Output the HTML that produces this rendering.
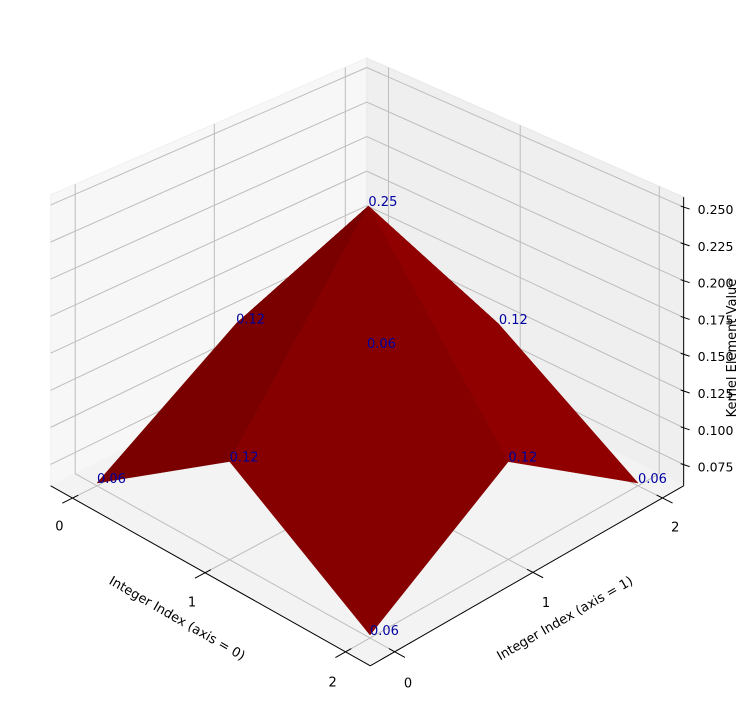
<!DOCTYPE html>
<html><head><meta charset="utf-8"><style>
html,body{margin:0;padding:0;background:#fff;}
svg{display:block;font-family:"DejaVu Sans","Liberation Sans",sans-serif;}
</style></head><body>
<svg id="chart" width="746" height="713" viewBox="0 0 746 713" xmlns="http://www.w3.org/2000/svg">
<g id="panes"></g>
<g id="grid"></g>
<g id="axes"></g>
<g id="surface"></g>
<g id="labels"></g>
</svg>
<script>
const rowIdx = [0, 1, 2];
const colIdx = [0, 1, 2];
const kernel = [
  [0.0625, 0.125, 0.0625],
  [0.125, 0.25, 0.125],
  [0.0625, 0.125, 0.0625]
];
const zTicks = [0.075, 0.100, 0.125, 0.150, 0.175, 0.200, 0.225, 0.250];
const zTickLabels = ["0.075","0.100","0.125","0.150","0.175","0.200","0.225","0.250"];
const xTickLabels = ["0","1","2"];
const yTickLabels = ["0","1","2"];

const NS = "http://www.w3.org/2000/svg";
const Z0 = 0.0625, IMIN = -0.17, IMAX = 2.17, ZMIN = 0.0606, ZMAX = 0.2568;
const P = [[97,483],[370,635],[638,483],[367,348]];
const dx1=P[1][0]-P[2][0], dx2=P[3][0]-P[2][0], dx3=P[0][0]-P[1][0]+P[2][0]-P[3][0];
const dy1=P[1][1]-P[2][1], dy2=P[3][1]-P[2][1], dy3=P[0][1]-P[1][1]+P[2][1]-P[3][1];
const den = dx1*dy2-dx2*dy1;
const g=(dx3*dy2-dx2*dy3)/den, h=(dx1*dy3-dx3*dy1)/den;
const A=P[1][0]-P[0][0]+g*P[1][0], B=P[3][0]-P[0][0]+h*P[3][0], C=P[0][0];
const D=P[1][1]-P[0][1]+g*P[1][1], E=P[3][1]-P[0][1]+h*P[3][1], F=P[0][1];
function floorPt(i,j){const u=i/2,v=j/2,w=g*u+h*v+1;return [(A*u+B*v+C)/w,(D*u+E*v+F)/w,1/w];}
const cen = floorPt(1,1);
const K = (cen[1]-206)/(0.25-Z0)/cen[2];
function proj(i,j,z){const f=floorPt(i,j);return [f[0], f[1]-(z-Z0)*K*f[2]];}

function mk(tag, attrs, parent){const e=document.createElementNS(NS,tag);for(const k in attrs)e.setAttribute(k,attrs[k]);parent.appendChild(e);return e;}
function poly(pts){return pts.map(p=>p[0].toFixed(1)+","+p[1].toFixed(1)).join(" ");}
const panes=document.getElementById("panes"), grid=document.getElementById("grid"), axes=document.getElementById("axes"), surf=document.getElementById("surface"), labs=document.getElementById("labels");

let e;
e=mk("polygon",{points:poly([proj(IMIN,IMIN,ZMIN),proj(IMIN,IMAX,ZMIN),proj(IMIN,IMAX,ZMAX),proj(IMIN,IMIN,ZMAX)]),fill:"#f7f7f7",stroke:"#f0f0f0"},panes);


e=mk("polygon",{points:poly([proj(IMIN,IMAX,ZMIN),proj(IMAX,IMAX,ZMIN),proj(IMAX,IMAX,ZMAX),proj(IMIN,IMAX,ZMAX)]),fill:"#efefef",stroke:"#e8e8e8"},panes);


e=mk("polygon",{points:poly([proj(IMIN,IMIN,ZMIN),proj(IMAX,IMIN,ZMIN),proj(IMAX,IMAX,ZMIN),proj(IMIN,IMAX,ZMIN)]),fill:"#f3f3f3",stroke:"#f3f3f3"},panes);



function gl(a,b){const l=mk("line",{x1:a[0],y1:a[1],x2:b[0],y2:b[1],stroke:"#bdbdbd","stroke-width":1},grid);

}
rowIdx.forEach(i=>{gl(proj(i,IMIN,ZMIN),proj(i,IMAX,ZMIN));gl(proj(i,IMAX,ZMIN),proj(i,IMAX,ZMAX));});
colIdx.forEach(j=>{gl(proj(IMIN,j,ZMIN),proj(IMAX,j,ZMIN));gl(proj(IMIN,j,ZMIN),proj(IMIN,j,ZMAX));});
zTicks.forEach(z=>{gl(proj(IMIN,IMIN,z),proj(IMIN,IMAX,z));gl(proj(IMIN,IMAX,z),proj(IMAX,IMAX,z));});

function al(a,b,name){const l=mk("line",{x1:a[0],y1:a[1],x2:b[0],y2:b[1],stroke:"#000","stroke-width":1},axes);

}
al(proj(IMIN,IMIN,ZMIN),proj(IMAX,IMIN,ZMIN),"x-axis-line");
al(proj(IMAX,IMIN,ZMIN),proj(IMAX,IMAX,ZMIN),"y-axis-line");
al(proj(IMAX,IMAX,ZMIN),proj(IMAX,IMAX,ZMAX),"z-axis-line");
function txt(x,y,s,extra,name){const t=mk("text",Object.assign({x:x,y:y,"font-size":13,fill:"#000"},extra||{}),axes);t.textContent=s;

return t;}
rowIdx.forEach((i,k)=>{
  al(proj(i,IMIN+0.04,ZMIN),proj(i,IMIN-0.07,ZMIN),"x-tick");
  const p=proj(i,IMIN-0.24,ZMIN);
  txt(p[0]+22,p[1]+15,xTickLabels[k],{"text-anchor":"middle"},"x-tick-label");
});
colIdx.forEach((j,k)=>{
  al(proj(IMAX-0.04,j,ZMIN),proj(IMAX+0.07,j,ZMIN),"y-tick");
  const p=proj(IMAX+0.24,j,ZMIN);
  txt(p[0]-22,p[1]+16,yTickLabels[k],{"text-anchor":"middle"},"y-tick-label");
});
zTicks.forEach((z,k)=>{
  const p=proj(IMAX,IMAX,z);
  al([p[0]-3,p[1]-1],[p[0]+6,p[1]+2],"z-tick");
  txt(p[0]+14,p[1]+7,zTickLabels[k],{"font-size":12.5},"z-tick-label");
});
txt(175,622,"Integer Index (axis = 0)",{"text-anchor":"middle",transform:"rotate(30 175 622)"},"x-axis-title");
txt(567,622,"Integer Index (axis = 1)",{"text-anchor":"middle",transform:"rotate(-30 567 622)"},"y-axis-title");
txt(736,348,"Kernel Element Value",{"text-anchor":"middle",transform:"rotate(-90 736 348)"},"z-axis-title");

const quadColors = {"0,0":"#7a0000","1,0":"#870000","0,1":"#8c0000","1,1":"#900000"};
const quads=[];
for(let a=0;a<rowIdx.length-1;a++)for(let b=0;b<colIdx.length-1;b++){
  quads.push({a,b,depth:(rowIdx[a]+0.5)-(colIdx[b]+0.5)});
}
quads.sort((x,y)=>x.depth-y.depth);
quads.forEach(qd=>{
  const {a,b}=qd;
  const pts=[proj(rowIdx[a],colIdx[b],kernel[a][b]),proj(rowIdx[a+1],colIdx[b],kernel[a+1][b]),proj(rowIdx[a+1],colIdx[b+1],kernel[a+1][b+1]),proj(rowIdx[a],colIdx[b+1],kernel[a][b+1])];
  const pg=mk("polygon",{points:poly(pts),fill:quadColors[a+","+b],stroke:quadColors[a+","+b],"stroke-width":0.5},surf);
  
  
});
function fmt(v){const x=v*100,f=Math.floor(x),d=x-f;let r;if(Math.abs(d-0.5)<1e-9)r=(f%2===0)?f:f+1;else r=Math.round(x);return (r/100).toFixed(2);}
rowIdx.forEach((i,a)=>colIdx.forEach((j,b)=>{
  const p=proj(i,j,kernel[a][b]);
  const t=mk("text",{x:p[0],y:p[1],"font-size":13,fill:"#0000a0"},labs);
  t.textContent=fmt(kernel[a][b]);
  
  
}));
</script>
</body></html>
